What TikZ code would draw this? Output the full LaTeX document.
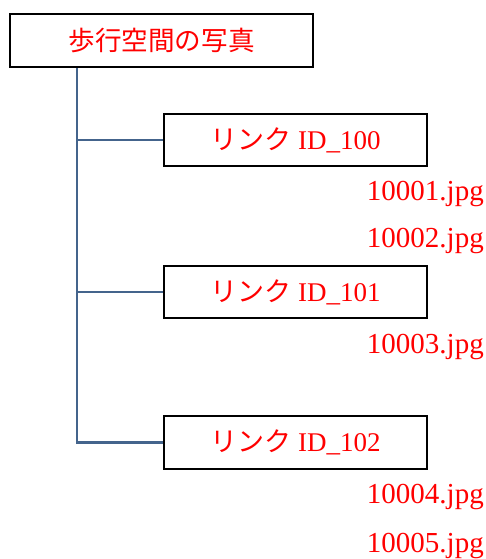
\documentclass[tikz,border=0pt]{standalone}
\usepackage{fontspec}
\setmainfont{Liberation Serif}
\newfontfamily\jfont{Noto Sans CJK JP}
\definecolor{linkline}{RGB}{68,100,140}
\begin{document}
\begin{tikzpicture}[x=1pt,y=-1pt,
  box/.style={draw=black,line width=2.2pt,fill=white,inner sep=0pt},
  conn/.style={draw=linkline,line width=2.6pt},
  lbl/.style={text=red,font=\fontsize{27}{30}\selectfont},
  rootlbl/.style={text=red,font=\fontsize{26.6}{30}\selectfont},
  file/.style={text=red,font=\fontsize{29}{32}\selectfont,anchor=east,inner sep=0pt}]
\useasboundingbox (0,0) rectangle (486,559);
\node[box,minimum width=303pt,minimum height=53pt] (root) at (161.5,40.5) {};
\node[rootlbl] at (root.center) {\jfont 歩行空間の写真};
\node[box,minimum width=263pt,minimum height=52pt] (l100) at (295.5,140) {};
\node[lbl] at (l100.center) {{\jfont リンク} ID\_100};
\node[box,minimum width=263pt,minimum height=52pt] (l101) at (295.5,292) {};
\node[lbl] at (l101.center) {{\jfont リンク} ID\_101};
\node[box,minimum width=263pt,minimum height=53pt] (l102) at (295.5,442.5) {};
\node[lbl] at (l102.center) {{\jfont リンク} ID\_102};
\coordinate (trunk) at (77,67);
\draw[conn] (root.south -| trunk) |- (l102.west);
\draw[conn] (trunk |- l100.west) -- (l100.west);
\draw[conn] (trunk |- l101.west) -- (l101.west);
\node[file] (f1) at (484,194) {10001.jpg};
\node[file] (f2) at (484,241) {10002.jpg};
\node[file] (f3) at (484,347) {10003.jpg};
\node[file] (f4) at (484,497) {10004.jpg};
\node[file] (f5) at (484,546) {10005.jpg};
\end{tikzpicture}
\end{document}
